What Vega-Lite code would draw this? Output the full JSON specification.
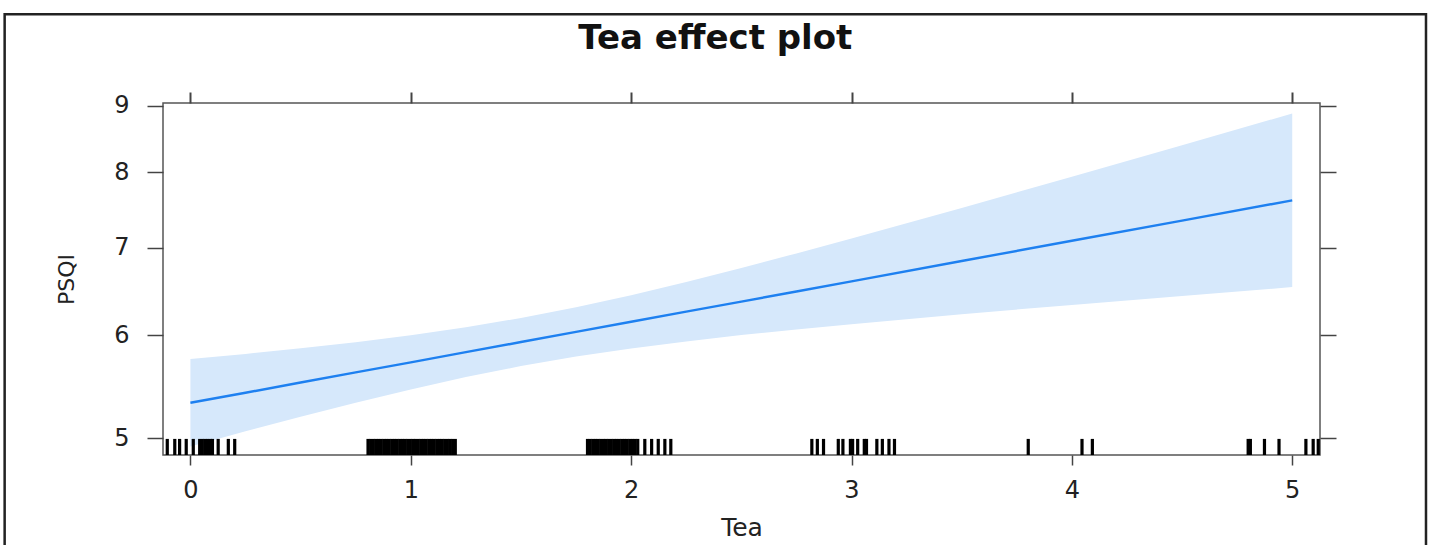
{
  "$schema": "https://vega.github.io/schema/vega-lite/v6.json",
  "width": 1157,
  "height": 352,
  "autosize": {"type": "none"},
  "padding": {"left": 163, "top": 103, "right": 112, "bottom": 90},
  "background": "white",
  "title": {"text": "Tea effect plot", "font": "DejaVu Sans", "fontSize": 34, "fontWeight": "bold", "color": "#111111", "anchor": "middle", "frame": "bounds", "baseline": "alphabetic", "offset": -70},
  "datasets": {
    "fit": [
      {"Tea": 0, "fit": 5.324, "lower": 4.929, "upper": 5.751},
      {"Tea": 0.25, "fit": 5.419, "lower": 5.062, "upper": 5.804},
      {"Tea": 0.5, "fit": 5.518, "lower": 5.194, "upper": 5.862},
      {"Tea": 0.75, "fit": 5.618, "lower": 5.325, "upper": 5.926},
      {"Tea": 1, "fit": 5.718, "lower": 5.451, "upper": 5.998},
      {"Tea": 1.25, "fit": 5.822, "lower": 5.572, "upper": 6.083},
      {"Tea": 1.5, "fit": 5.927, "lower": 5.681, "upper": 6.184},
      {"Tea": 1.75, "fit": 6.034, "lower": 5.777, "upper": 6.302},
      {"Tea": 2, "fit": 6.143, "lower": 5.861, "upper": 6.439},
      {"Tea": 2.25, "fit": 6.254, "lower": 5.934, "upper": 6.591},
      {"Tea": 2.5, "fit": 6.366, "lower": 6.0, "upper": 6.756},
      {"Tea": 2.75, "fit": 6.481, "lower": 6.06, "upper": 6.932},
      {"Tea": 3, "fit": 6.598, "lower": 6.117, "upper": 7.117},
      {"Tea": 3.5, "fit": 6.839, "lower": 6.226, "upper": 7.512},
      {"Tea": 4, "fit": 7.088, "lower": 6.329, "upper": 7.938},
      {"Tea": 4.5, "fit": 7.345, "lower": 6.43, "upper": 8.391},
      {"Tea": 5, "fit": 7.613, "lower": 6.531, "upper": 8.874}
    ],
    "rug": [
      {"Tea": -0.105}, {"Tea": -0.071}, {"Tea": -0.049}, {"Tea": -0.019}, {"Tea": 0.013}, {"Tea": 0.042}, {"Tea": 0.054}, {"Tea": 0.066}, {"Tea": 0.078}, {"Tea": 0.09}, {"Tea": 0.1}, {"Tea": 0.126}, {"Tea": 0.172}, {"Tea": 0.201},
      {"Tea": 0.806}, {"Tea": 0.818}, {"Tea": 0.83}, {"Tea": 0.842}, {"Tea": 0.854}, {"Tea": 0.866}, {"Tea": 0.878}, {"Tea": 0.89}, {"Tea": 0.902}, {"Tea": 0.914}, {"Tea": 0.926}, {"Tea": 0.938}, {"Tea": 0.95}, {"Tea": 0.962}, {"Tea": 0.974}, {"Tea": 0.986}, {"Tea": 0.998}, {"Tea": 1.01}, {"Tea": 1.022}, {"Tea": 1.034}, {"Tea": 1.046}, {"Tea": 1.058}, {"Tea": 1.07}, {"Tea": 1.082}, {"Tea": 1.094}, {"Tea": 1.106}, {"Tea": 1.118}, {"Tea": 1.13}, {"Tea": 1.142}, {"Tea": 1.154}, {"Tea": 1.166}, {"Tea": 1.178}, {"Tea": 1.19}, {"Tea": 1.202},
      {"Tea": 1.802}, {"Tea": 1.814}, {"Tea": 1.826}, {"Tea": 1.838}, {"Tea": 1.85}, {"Tea": 1.862}, {"Tea": 1.874}, {"Tea": 1.886}, {"Tea": 1.898}, {"Tea": 1.91}, {"Tea": 1.922}, {"Tea": 1.934}, {"Tea": 1.946}, {"Tea": 1.958}, {"Tea": 1.97}, {"Tea": 1.982}, {"Tea": 1.994}, {"Tea": 2.006}, {"Tea": 2.018}, {"Tea": 2.03}, {"Tea": 2.062}, {"Tea": 2.093}, {"Tea": 2.123}, {"Tea": 2.153}, {"Tea": 2.18},
      {"Tea": 2.82}, {"Tea": 2.845}, {"Tea": 2.873}, {"Tea": 2.94}, {"Tea": 2.961}, {"Tea": 2.995}, {"Tea": 3.005}, {"Tea": 3.028}, {"Tea": 3.058}, {"Tea": 3.068}, {"Tea": 3.115}, {"Tea": 3.14}, {"Tea": 3.17}, {"Tea": 3.195},
      {"Tea": 3.802}, {"Tea": 4.046}, {"Tea": 4.093},
      {"Tea": 4.8}, {"Tea": 4.81}, {"Tea": 4.874}, {"Tea": 4.94}, {"Tea": 5.062}, {"Tea": 5.095}, {"Tea": 5.118}
    ],
    "frame": [{"name": "figure border"}]
  },
  "layer": [
    {
      "data": {"name": "fit"},
      "mark": {"type": "area", "color": "#D6E8FB", "opacity": 1},
      "encoding": {
        "x": {"field": "Tea", "type": "quantitative", "scale": {"domain": [-0.1244, 5.126], "nice": false, "zero": false},
          "axis": {"orient": "bottom", "values": [0, 1, 2, 3, 4, 5], "format": "d", "tickSize": 10, "labelPadding": 13, "title": "Tea", "titleFontSize": 25, "titleX": 578.5, "titleY": 80, "titleAlign": "center", "titleBaseline": "alphabetic"}},
        "y": {"field": "lower", "type": "quantitative", "scale": {"type": "log", "domain": [4.855, 9.041], "nice": false, "zero": false},
          "axis": {"orient": "left", "values": [5, 6, 7, 8, 9], "format": "d", "tickSize": 16, "labelPadding": 18, "title": "PSQI", "titleFontSize": 22, "titleAngle": 270, "titleX": -97, "titleY": 176, "titleAlign": "center", "titleBaseline": "middle"}},
        "y2": {"field": "upper"}
      }
    },
    {
      "data": {"name": "fit"},
      "mark": {"type": "line", "color": "#1E80F0", "strokeWidth": 2.4},
      "encoding": {
        "x": {"field": "Tea", "type": "quantitative", "scale": {"domain": [-0.1244, 5.126], "nice": false, "zero": false},
          "axis": {"orient": "top", "values": [0, 1, 2, 3, 4, 5], "labels": false, "tickSize": 11, "tickWidth": 2, "title": null}},
        "y": {"field": "fit", "type": "quantitative", "scale": {"type": "log", "domain": [4.855, 9.041], "nice": false, "zero": false},
          "axis": {"orient": "right", "values": [5, 6, 7, 8, 9], "labels": false, "tickSize": 16, "title": null}}
      }
    },
    {
      "data": {"name": "rug"},
      "mark": {"type": "rule", "color": "#000000", "strokeWidth": 3.2},
      "encoding": {
        "x": {"field": "Tea", "type": "quantitative", "scale": {"domain": [-0.1244, 5.126], "nice": false, "zero": false}, "axis": null},
        "y": {"datum": 4.855, "type": "quantitative", "scale": {"type": "log", "domain": [4.855, 9.041], "nice": false, "zero": false}, "axis": null},
        "y2": {"datum": 4.995}
      }
    },
    {
      "data": {"name": "frame"},
      "mark": {"type": "rect", "fill": "white", "fillOpacity": 0, "stroke": "#222222", "strokeWidth": 2.5},
      "encoding": {
        "x": {"datum": -0.843, "type": "quantitative", "scale": {"domain": [-0.1244, 5.126], "nice": false, "zero": false}, "axis": null},
        "x2": {"datum": 5.607},
        "y": {"datum": 10.574, "type": "quantitative", "scale": {"type": "log", "domain": [4.855, 9.041], "nice": false, "zero": false}, "axis": null},
        "y2": {"datum": 4.0}
      }
    }
  ],
  "resolve": {"axis": {"x": "independent", "y": "independent"}},
  "config": {
    "view": {"stroke": "#555555", "strokeWidth": 1.5},
    "axis": {"grid": false, "domain": false, "tickColor": "#444444", "tickWidth": 1.5, "labelFont": "DejaVu Sans", "labelFontSize": 24, "labelColor": "#222222", "titleFont": "DejaVu Sans", "titleColor": "#222222", "titleFontWeight": "normal"}
  }
}
